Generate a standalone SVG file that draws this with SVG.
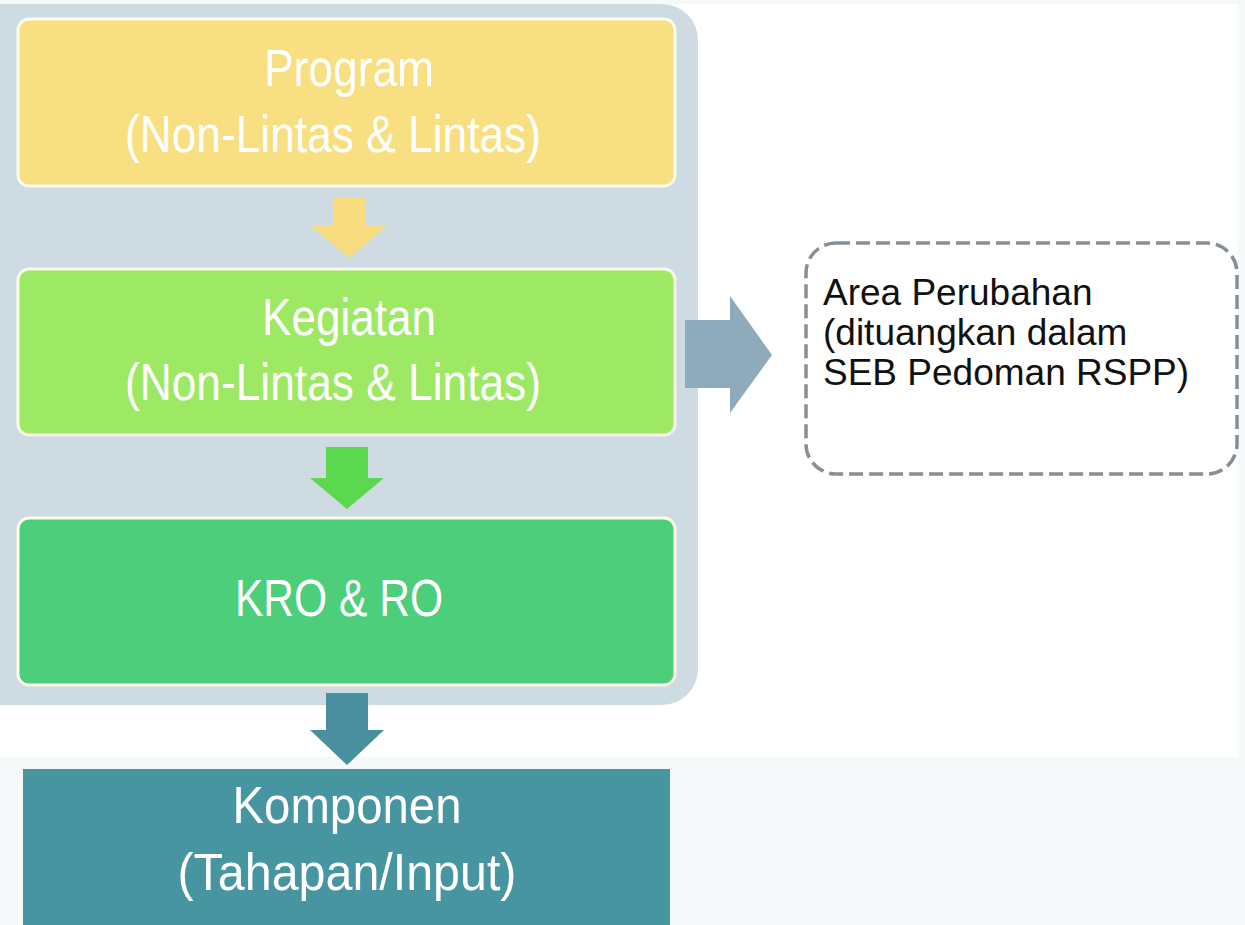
<svg xmlns="http://www.w3.org/2000/svg" width="1245" height="925" viewBox="0 0 1245 925">
  <style>
    .lbl { font-family: "Liberation Sans", Arial, sans-serif; font-size: 52px; fill: #ffffff; text-anchor: middle; }
    .note { font-family: "Liberation Sans", Arial, sans-serif; font-size: 37px; fill: #111111; }
    .step { stroke: #fbfbe9; stroke-width: 3; }
  </style>
  <!-- page background -->
  <rect x="0" y="0" width="1245" height="925" fill="#f5f9fa"/>
  <rect x="0" y="4" width="1238" height="753" fill="#ffffff"/>

  <!-- grey container behind the three stages -->
  <g id="container">
    <rect x="-40" y="4" width="738" height="701" rx="36" fill="#cfdbe2"/>
  </g>

  <g id="program">
    <rect class="step" x="18" y="19" width="657" height="167" rx="11" fill="#f8e082"/>
    <text class="lbl" x="349" y="86" textLength="170" lengthAdjust="spacingAndGlyphs">Program</text>
    <text class="lbl" x="333" y="152" textLength="416" lengthAdjust="spacingAndGlyphs">(Non-Lintas &amp; Lintas)</text>
  </g>

  <g id="kegiatan">
    <rect class="step" x="18" y="269" width="657" height="166" rx="11" fill="#9de963"/>
    <text class="lbl" x="349" y="335" textLength="174" lengthAdjust="spacingAndGlyphs">Kegiatan</text>
    <text class="lbl" x="333" y="400" textLength="416" lengthAdjust="spacingAndGlyphs">(Non-Lintas &amp; Lintas)</text>
  </g>

  <g id="kro-ro">
    <rect class="step" x="18" y="518" width="657" height="167" rx="11" fill="#4cce7b"/>
    <text class="lbl" x="339" y="616" textLength="208" lengthAdjust="spacingAndGlyphs">KRO &amp; RO</text>
  </g>

  <g id="komponen">
    <rect x="23" y="769" width="647" height="156" fill="#4895a2"/>
    <text class="lbl" x="347" y="823" textLength="229" lengthAdjust="spacingAndGlyphs">Komponen</text>
    <text class="lbl" x="347" y="890" textLength="339" lengthAdjust="spacingAndGlyphs">(Tahapan/Input)</text>
  </g>

  <g id="area-perubahan">
    <rect x="806" y="243" width="431" height="231" rx="30" fill="#ffffff" stroke="#868f96" stroke-width="3.5" stroke-dasharray="14 6"/>
    <text class="note" x="823" y="305">Area Perubahan</text>
    <text class="note" x="823" y="345">(dituangkan dalam</text>
    <text class="note" x="823" y="385">SEB Pedoman RSPP)</text>
  </g>

  <!-- block arrows between the stages -->
  <g id="connectors">
    <path d="M333 197 H366 V225 H388 L349 258 L310 225 H333 Z" fill="#f9dc80"/>
    <path d="M326 447 H368 V478 H384 L347 509 L310 478 H326 Z" fill="#5bd84f"/>
    <path d="M326 693 H368 V730 H384 L347 765 L310 730 H326 Z" fill="#4a8fa0"/>
    <path d="M685 320 H730 V296 L772 355 L730 413 V388 H685 Z" fill="#8fabbb"/>
  </g>
</svg>
